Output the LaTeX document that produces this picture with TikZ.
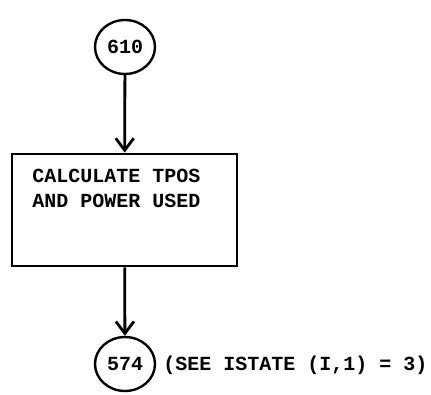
\documentclass[tikz,border=0pt]{standalone}
\usepackage{fontspec}
\setmainfont{Liberation Mono}
\usetikzlibrary{shapes.geometric, arrows.meta, positioning}

\begin{document}
\begin{tikzpicture}[x=0.5pt, y=-0.5pt, >={Straight Barb[length=6pt,width=9pt]},
  connector/.style={ellipse, draw, line width=1.2pt, minimum width=30pt, minimum height=27pt, inner sep=0pt},
  procbox/.style={rectangle, draw, line width=1.4pt, minimum width=112.5pt, minimum height=56pt},
  flow/.style={->, line width=1.4pt},
  every node/.style={font=\bfseries}]
  \useasboundingbox (0,0) rectangle (431,394);
  % Draw the entry connector
  \node[connector] (c610) at (125, 47) {610};
  % Draw the process box
  \node[procbox] (calc) at (124.5, 210) {};
  \node[anchor=base west, align=left, inner sep=0pt, font=\bfseries\fontsize{10}{12.5}\selectfont] (calctext) at (32, 207) {CALCULATE TPOS\\AND POWER USED};
  % Draw the exit connector
  \node[connector] (c574) at (125, 364) {574};
  \node[anchor=base west, inner sep=0pt] (note) at (163, 370) {(SEE ISTATE (I,1) = 3)};
  % Draw the flow lines
  \draw[flow] (c610) -- (calc);
  \draw[flow] (calc) -- (c574);
\end{tikzpicture}
\end{document}
